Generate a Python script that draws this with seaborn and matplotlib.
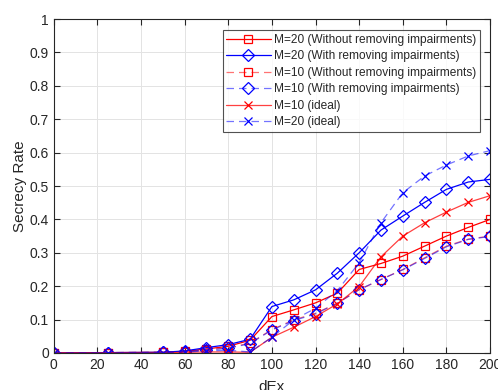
import matplotlib
matplotlib.use("Agg")
import matplotlib.pyplot as plt
import seaborn as sns
import pandas as pd

x = [0, 25, 50, 60, 70, 80, 90, 100, 110, 120, 130, 140, 150, 160, 170, 180, 190, 200]
m20_without = [0, 0.001, 0.002, 0.005, 0.012, 0.02, 0.038, 0.109, 0.129, 0.15, 0.179, 0.25, 0.268, 0.29, 0.32, 0.35, 0.376, 0.40]
m20_with = [0, 0.001, 0.002, 0.006, 0.016, 0.025, 0.041, 0.139, 0.159, 0.189, 0.239, 0.30, 0.368, 0.41, 0.451, 0.49, 0.512, 0.52]
m10_without = [0, 0.001, 0.002, 0.004, 0.01, 0.015, 0.03, 0.07, 0.099, 0.119, 0.149, 0.189, 0.22, 0.25, 0.285, 0.32, 0.341, 0.35]
m10_with = [0, 0.001, 0.002, 0.004, 0.009, 0.014, 0.028, 0.069, 0.097, 0.117, 0.149, 0.19, 0.22, 0.249, 0.283, 0.318, 0.34, 0.349]
m10_ideal = [0, 0, 0, 0.002, 0.003, 0.003, 0.002, 0.047, 0.077, 0.109, 0.147, 0.199, 0.288, 0.35, 0.39, 0.422, 0.451, 0.471]
m20_ideal = [0, 0, 0.001, 0.003, 0.006, 0.008, 0.003, 0.047, 0.099, 0.134, 0.187, 0.27, 0.39, 0.48, 0.53, 0.563, 0.59, 0.606]

labels = ["M=20 (Without removing impairments)",
          "M=20 (With removing impairments)",
          "M=10 (Without removing impairments)",
          "M=10 (With removing impairments)",
          "M=10 (ideal)",
          "M=20 (ideal)"]
series = [m20_without, m20_with, m10_without, m10_with, m10_ideal, m20_ideal]
styles = [
    dict(color=(1, 0, 0, 1.0), mec="red", marker="s", ls="-"),
    dict(color=(0, 0, 1, 1.0), mec="blue", marker="D", ls="-"),
    dict(color=(1, 0, 0, 0.55), mec="red", marker="s", ls=(0, (6, 4))),
    dict(color=(0, 0, 1, 0.55), mec="blue", marker="D", ls=(0, (6, 4))),
    dict(color=(1, 0, 0, 0.75), mec="red", marker="x", ls="-"),
    dict(color=(0, 0, 1, 0.55), mec="blue", marker="x", ls=(0, (6, 4))),
]

sns.set_style("white")
plt.rcParams["font.family"] = ["Liberation Sans", "DejaVu Sans"]

fig = plt.figure(figsize=(4.98, 3.90), dpi=100)
ax = fig.add_axes([0.108, 0.095, 0.876, 0.856])

for lab, ys, st in zip(labels, series, styles):
    df = pd.DataFrame({"dEx": x, "rate": ys})
    sns.lineplot(data=df, x="dEx", y="rate", ax=ax, label=lab,
                 color=st["color"], linestyle=st["ls"], linewidth=0.9,
                 marker=st["marker"], markersize=6,
                 markerfacecolor="none", markeredgecolor=st["mec"],
                 markeredgewidth=0.9)

ax.set_xlim(0, 200)
ax.set_ylim(0, 1)
ax.set_xticks(range(0, 201, 20))
ax.set_yticks([i / 10 for i in range(11)])
ax.set_yticklabels(["0", "0.1", "0.2", "0.3", "0.4", "0.5", "0.6", "0.7", "0.8", "0.9", "1"])
ax.grid(True, color="#e3e3e3", linewidth=0.7)
ax.tick_params(direction="in", length=4, labelsize=10, colors="#262626",
               top=True, right=True, bottom=True, left=True, labeltop=False, labelright=False)
for s in ax.spines.values():
    s.set_color("#262626")
    s.set_linewidth(0.8)
ax.set_xlabel("dEx", fontsize=11, color="#262626", labelpad=6)
ax.set_ylabel("Secrecy Rate", fontsize=11, color="#262626", labelpad=2)

leg = ax.legend(loc="upper right", bbox_to_anchor=(0.977, 0.967), fontsize=8.6,
                frameon=True, fancybox=False, edgecolor="#262626",
                borderpad=0.3, labelspacing=0.38, handlelength=3.7,
                handletextpad=0.3, borderaxespad=0)
leg.get_frame().set_linewidth(0.8)

fig.savefig("out.png", dpi=100)
